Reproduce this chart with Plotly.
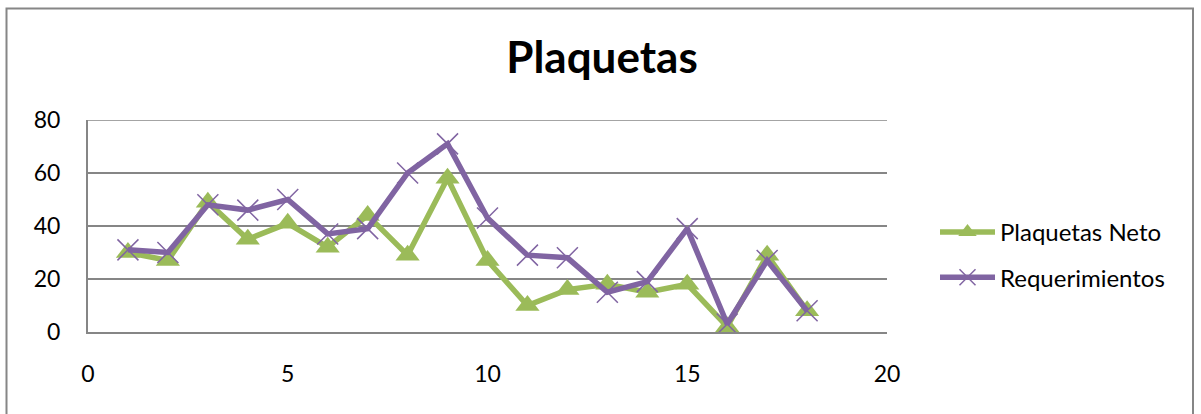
import plotly.graph_objects as go

x_vals = list(range(1, 19))
neto = [30, 27, 49, 35, 41, 32, 44, 29, 58, 27, 10, 16, 18, 15, 18, 2, 29, 8]
requerimientos = [31, 30, 48, 46, 50, 37, 39, 60, 71, 43, 29, 28, 15, 19, 39, 3, 27, 8]
series_names = ["Plaquetas Neto", "Requerimientos"]
x_ticks = [0, 5, 10, 15, 20]
y_ticks = [0, 20, 40, 60, 80]

W, H = 1201, 414
L, R, T, B = 88, 887, 120, 332

FONT = "Lato"
GRID = "#868686"

fig = go.Figure()
fig.add_trace(go.Scatter(
    x=x_vals, y=neto, name=series_names[0], mode="lines+markers",
    line=dict(color="#9BBB59", width=5.5),
    marker=dict(symbol="triangle-up", size=21, color="#9BBB59"),
    legendgroup="a",
))
fig.add_trace(go.Scatter(
    x=x_vals, y=requerimientos, name=series_names[1], mode="lines+markers",
    line=dict(color="#8064A2", width=5.5),
    marker=dict(symbol="x-thin", size=21, color="#8064A2",
                line=dict(color="#8064A2", width=1.5)),
    legendgroup="b",
))

def px_x(p):
    return (p - L) / (R - L)

def px_y(p):
    return (B - p) / (B - T)

# outer chart border
fig.add_shape(type="rect", xref="paper", yref="paper",
              x0=px_x(6.5), x1=px_x(1193), y0=px_y(425), y1=px_y(8.5),
              line=dict(color=GRID, width=2), layer="below")
# top gridline (at range edge)
fig.add_shape(type="line", xref="paper", yref="y",
              x0=0, x1=1, y0=max(y_ticks), y1=max(y_ticks),
              line=dict(color=GRID, width=1.5), layer="below")

fig.update_layout(
    width=W, height=H,
    margin=dict(l=L, r=W - R, t=T, b=H - B, pad=0),
    paper_bgcolor="white", plot_bgcolor="white",
    font=dict(family=FONT, size=23, color="black"),
    title=dict(text="<b>Plaquetas</b>", x=602 / W, xanchor="center",
               y=1 - 58 / H, yanchor="middle",
               font=dict(family=FONT, size=44, color="black")),
    xaxis=dict(range=[0, 20], tickvals=x_ticks, showgrid=False,
               showline=True, linecolor=GRID, linewidth=2,
               zeroline=False, ticks="", ticklen=0,
               tickfont=dict(size=23), fixedrange=True,
               ticklabelstandoff=20),
    yaxis=dict(range=[0, 80], tickvals=y_ticks, showgrid=True,
               gridcolor=GRID, gridwidth=1.5,
               showline=True, linecolor=GRID, linewidth=2,
               zeroline=False, ticks="outside", ticklen=21,
               tickcolor="rgba(0,0,0,0)",
               tickfont=dict(size=23), fixedrange=True),
    legend=dict(x=px_x(935), xanchor="left", y=px_y(210), yanchor="top",
                font=dict(family=FONT, size=24), traceorder="grouped",
                tracegroupgap=11, itemwidth=55, bgcolor="rgba(0,0,0,0)"),
    showlegend=True,
)

fig.write_html("out.html")
